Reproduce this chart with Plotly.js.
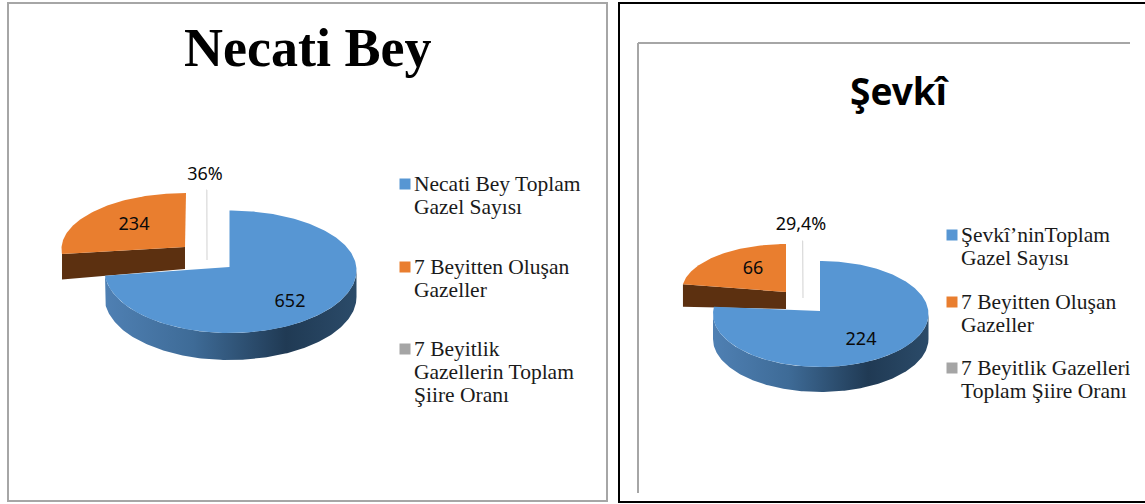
<!DOCTYPE html>
<html>
<head>
<meta charset="utf-8">
<script src="https://cdn.plot.ly/plotly-3.0.1.min.js"></script>
<style>html,body{margin:0;padding:0;background:#fff}#chart{width:1145px;height:504px}</style>
</head>
<body>
<div id="chart"></div>
<script>
// Gazel counts for the two poets
const necatiTitle = 'Necati Bey';
const necatiValues = [652, 234, 0.36];
const necatiLabels = ['652', '234', '36%'];
const necatiLegend = [
  ['Necati Bey Toplam', 'Gazel Sayısı'],
  ['7 Beyitten Oluşan', 'Gazeller'],
  ['7 Beyitlik', 'Gazellerin Toplam', 'Şiire Oranı']
];

const sevkiTitle = 'Şevkî';
const sevkiValues = [224, 66, 0.294];
const sevkiLabels = ['224', '66', '29,4%'];
const sevkiLegend = [
  ['Şevkî’ninToplam', 'Gazel Sayısı'],
  ['7 Beyitten Oluşan', 'Gazeller'],
  ['7 Beyitlik Gazellerin', 'Toplam Şiire Oranı']
];

const sliceColors = ['#5796d3', '#e97e2f', '#a5a5a5'];
const serif = '"Liberation Serif", serif';
const sans = '"Noto Sans", sans-serif';

// Screen geometry of each exploded pie, in page pixels.
// rxLeft covers the foreshortened far side of the perspective view.
const necatiGeom = {
  main: {cx: 229.5, cy: 270, rx: 127, rxLeft: 125, ry: 59.5, ryDown: 63, ax: 229.5, ay: 267, depth: 27},
  second: {cx: 186, cy: 249, rx: 124.5, ry: 56, ax: 185, ay: 247, depth: 22, tipDepth: 25.5},
  third: {cx: 207, cy: 260, rx: 70, ry: 70},
  labels: [[290, 302], [134, 225], [205, 175]],
  legendX: 399, legendY: [184, 267, 349], lineGap: 23
};
const sevkiGeom = {
  main: {cx: 820, cy: 314, rx: 108.5, rxLeft: 107, ry: 53, ax: 820, ay: 311, depth: 25},
  second: {cx: 786, cy: 290.5, rx: 104, ry: 46.5, ax: 786, ay: 292, depth: 17, tipDepth: 22.5},
  third: {cx: 803, cy: 298, rx: 57, ry: 57},
  labels: [[861, 340], [753, 269], [801, 225]],
  legendX: 946, legendY: [235, 302, 368], lineGap: 23
};

// Point on the rim, with the angle measured clockwise from twelve o'clock
function rimPoint(e, deg) {
  const t = deg * Math.PI / 180;
  const s = Math.sin(t), c = Math.cos(t);
  const rx = s < 0 && e.rxLeft ? e.rxLeft : e.rx;
  const ry = c < 0 && e.ryDown ? e.ryDown : e.ry;
  return [e.cx + rx * s, e.cy - ry * c];
}

function arc(e, from, to) {
  const pts = [];
  for (let d = from; d < to; d += 1) pts.push(rimPoint(e, d));
  pts.push(rimPoint(e, to));
  return pts;
}

function polygon(pts, color, extra) {
  return Object.assign({
    x: pts.map(p => p[0]), y: pts.map(p => p[1]),
    mode: 'lines', fill: 'toself', fillcolor: color,
    line: {width: 0, color: color}, hoverinfo: 'skip', showlegend: false
  }, extra || {});
}

function drop(pts, h) { return pts.map(p => [p[0], p[1] + h]); }

function pieTraces(values, labels, legend, g) {
  const total = values.reduce((a, b) => a + b, 0);
  const mainEnd = values[0] / total * 360;
  const secondEnd = mainEnd + values[1] / total * 360;
  const out = [];

  // Pulled-out second slice: cut face first, then the top
  const m2 = g.second;
  const a2 = arc(m2, mainEnd, 360);
  const apex2 = [m2.ax, m2.ay];
  const tip2 = a2[0];
  out.push(polygon([tip2, apex2, drop([apex2], m2.depth)[0], drop([tip2], m2.tipDepth)[0]], '#5c3010'));
  out.push(polygon([apex2].concat(a2), sliceColors[1]));

  // Thin third slice
  const m3 = g.third;
  const a3 = arc(m3, secondEnd, 360);
  out.push({
    x: [m3.cx].concat(a3.map(p => p[0])).concat([rimPoint(m3, 360)[0]]),
    y: [m3.cy].concat(a3.map(p => p[1])).concat([rimPoint(m3, 360)[1]]),
    mode: 'lines', line: {width: 1.2, color: '#d9d9d9'},
    hoverinfo: 'skip', showlegend: false
  });

  // Main slice: shaded rim wall below the top face
  const m1 = g.main;
  const wallFrom = 90;
  const wall = arc(m1, wallFrom, Math.min(mainEnd, 270));
  const wallPts = wall.concat(drop(wall, m1.depth).reverse());
  out.push(polygon(wallPts, '#3b6a96', {
    fillgradient: {
      type: 'horizontal',
      colorscale: [[0, '#4f80b3'], [0.35, '#3e6b97'], [0.72, '#203a54'], [1, '#2b4b69']]
    }
  }));
  out.push(polygon([[m1.ax, m1.ay]].concat(arc(m1, 0, mainEnd)), sliceColors[0]));

  // Value labels
  out.push({
    x: g.labels.map(p => p[0]), y: g.labels.map(p => p[1]), text: [labels[0], labels[1], labels[2]],
    mode: 'text', textposition: 'middle center',
    textfont: {family: sans, size: 18, color: '#0a0a0a'},
    hoverinfo: 'skip', showlegend: false
  });

  // Legend swatches and wrapped entries
  out.push({
    x: legend.map(() => g.legendX + 6), y: g.legendY, mode: 'markers',
    marker: {symbol: 'square', size: 11, color: sliceColors, line: {width: 0}},
    hoverinfo: 'skip', showlegend: false
  });
  const lx = [], ly = [], lt = [];
  legend.forEach((entry, i) => entry.forEach((line, j) => {
    lx.push(g.legendX + 15); ly.push(g.legendY[i] + 2 + j * g.lineGap); lt.push(line);
  }));
  out.push({
    x: lx, y: ly, text: lt, mode: 'text', textposition: 'middle right',
    textfont: {family: serif, size: 21.5, color: '#1a1a1a'},
    hoverinfo: 'skip', showlegend: false, cliponaxis: true
  });
  return out;
}

const traces = pieTraces(necatiValues, necatiLabels, necatiLegend, necatiGeom)
  .concat(pieTraces(sevkiValues, sevkiLabels, sevkiLegend, sevkiGeom));

const rule = (x0, y0, x1, y1, color, width) => ({
  type: 'line', x0, y0, x1, y1, layer: 'above', line: {color, width}
});

const layout = {
  width: 1145, height: 504,
  margin: {l: 0, r: 0, t: 0, b: 0},
  paper_bgcolor: '#fff', plot_bgcolor: '#fff',
  showlegend: false,
  xaxis: {range: [0, 1145], visible: false, fixedrange: true},
  yaxis: {range: [504, 0], visible: false, fixedrange: true},
  shapes: [
    // Legend text stops at the inner panel edge
    {type: 'rect', x0: 1130, x1: 1145, y0: 200, y1: 420, layer: 'above', fillcolor: '#fff', line: {width: 0}},
    {type: 'rect', x0: 8, y0: 3, x1: 607, y1: 501, layer: 'above', line: {color: '#a6a6a6', width: 2}},
    rule(619, 3, 1145, 3, '#000', 2),
    rule(619, 2, 619, 503, '#000', 2),
    rule(619, 502, 1145, 502, '#000', 2),
    rule(638, 43, 1130, 43, '#a6a6a6', 2),
    rule(638, 43, 638, 493, '#a6a6a6', 2)
  ],
  annotations: [
    {text: '<b>' + necatiTitle + '</b>', x: 307.5, y: 48, xref: 'x', yref: 'y', showarrow: false,
     font: {family: serif, size: 54, color: '#000'}, xanchor: 'center', yanchor: 'middle'},
    {text: '<b>' + sevkiTitle + '</b>', x: 899, y: 90, xref: 'x', yref: 'y', showarrow: false,
     font: {family: sans, size: 37, color: '#000'}, xanchor: 'center', yanchor: 'middle'}
  ]
};

Plotly.newPlot('chart', traces, layout, {staticPlot: true, displayModeBar: false});
</script>
</body>
</html>
